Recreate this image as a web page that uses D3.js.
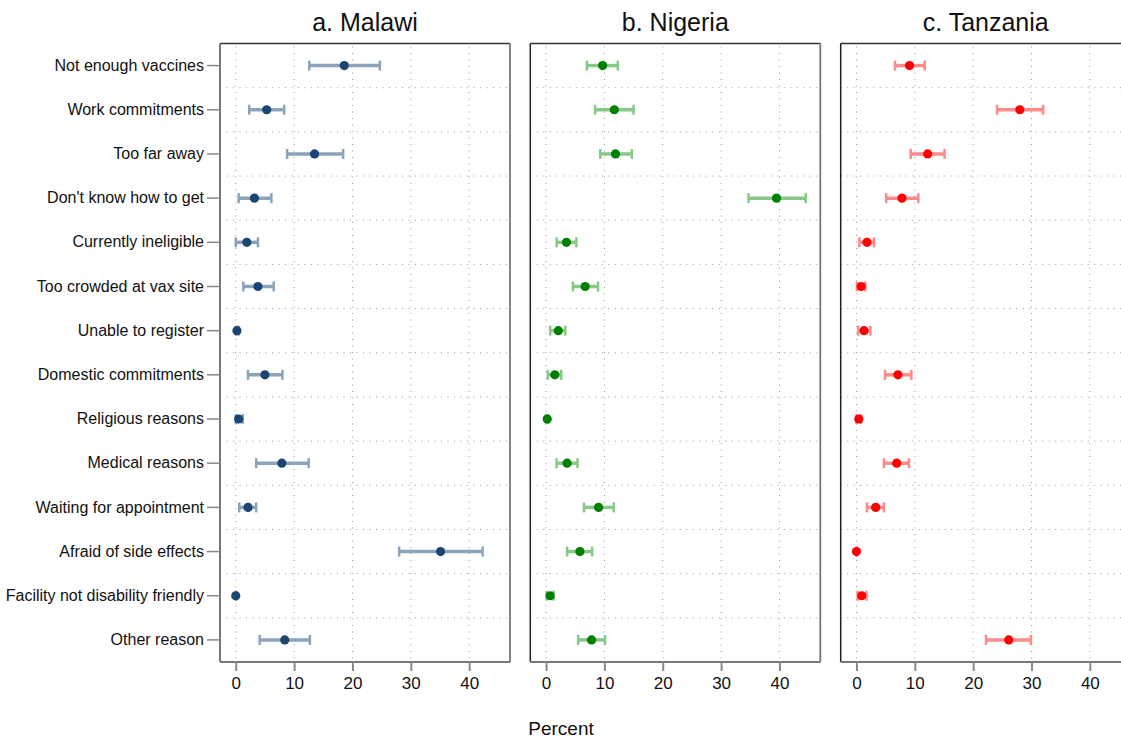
<!DOCTYPE html>
<html>
<head>
<meta charset="utf-8">
<script src="https://cdn.jsdelivr.net/npm/d3@7"></script>
<style>
  body { margin: 0; background: #fff; }
  svg { font-family: "Liberation Sans", Arial, sans-serif; }
</style>
</head>
<body>
<div id="chart"></div>
<script>
// reasons (rows, top to bottom)
const reasons = ["Not enough vaccines", "Work commitments", "Too far away", "Don't know how to get",
  "Currently ineligible", "Too crowded at vax site", "Unable to register", "Domestic commitments",
  "Religious reasons", "Medical reasons", "Waiting for appointment", "Afraid of side effects",
  "Facility not disability friendly", "Other reason"];

const countries = ["a. Malawi", "b. Nigeria", "c. Tanzania"];
const xTicks = [0, 10, 20, 30, 40];

// point estimates and 95% CI, percent
const malawiPct = [18.6, 5.3, 13.5, 3.2, 1.9, 3.8, 0.2, 5.0, 0.5, 7.9, 2.1, 35.1, 0.0, 8.4];
const malawiLo  = [12.6, 2.3, 8.8, 0.5, 0.0, 1.3, 0.0, 2.1, 0.0, 3.5, 0.6, 28.0, 0.0, 4.1];
const malawiHi  = [24.7, 8.3, 18.4, 6.1, 3.8, 6.5, 0.5, 8.0, 1.2, 12.5, 3.5, 42.3, 0.1, 12.7];

const nigeriaPct = [9.7, 11.7, 11.9, 39.5, 3.5, 6.7, 2.1, 1.5, 0.2, 3.6, 9.0, 5.8, 0.7, 7.8];
const nigeriaLo  = [7.0, 8.4, 9.3, 34.7, 1.8, 4.6, 0.7, 0.3, 0.0, 1.8, 6.5, 3.6, 0.1, 5.5];
const nigeriaHi  = [12.3, 15.0, 14.7, 44.5, 5.2, 8.9, 3.3, 2.6, 0.4, 5.4, 11.6, 7.9, 1.3, 10.1];

const tanzaniaPct = [9.1, 28.0, 12.2, 7.8, 1.8, 0.8, 1.3, 7.1, 0.4, 6.9, 3.3, 0.0, 0.9, 26.1];
const tanzaniaLo  = [6.6, 24.1, 9.3, 5.1, 0.5, 0.1, 0.3, 4.9, 0.0, 4.7, 1.8, 0.0, 0.2, 22.2];
const tanzaniaHi  = [11.7, 32.0, 15.1, 10.6, 3.0, 1.5, 2.4, 9.4, 0.8, 9.0, 4.7, 0.1, 1.7, 29.9];

const pct = [malawiPct, nigeriaPct, tanzaniaPct];
const lo = [malawiLo, nigeriaLo, tanzaniaLo];
const hi = [malawiHi, nigeriaHi, tanzaniaHi];
const dotColor = ["#1a4673", "#008000", "#ff0000"];
const ciColor = ["#8ca3bb", "#88c888", "#ff8a8a"];

const W = 1121, H = 739;
const plotTop = 43.5, plotBottom = 662;
const panelLeft = [220, 530.3, 840.7];
const panelW = 290;

const svg = d3.select("#chart").append("svg")
  .attr("width", W).attr("height", H);

const y = d3.scaleBand().domain(reasons).range([plotTop, plotBottom]);

countries.forEach((name, k) => {
  const x0 = panelLeft[k];
  const x = d3.scaleLinear().domain([-2.7, 47]).range([x0, x0 + panelW]);
  const g = svg.append("g");

  // grid
  g.selectAll(".vg").data(xTicks).enter().append("line")
    .attr("x1", d => x(d)).attr("x2", d => x(d))
    .attr("y1", plotTop + 3).attr("y2", plotBottom)
    .attr("stroke", "#999").attr("stroke-width", 1).attr("stroke-dasharray", "1,5.5");
  g.selectAll(".hg").data(reasons.slice(1)).enter().append("line")
    .attr("x1", x0).attr("x2", x0 + panelW)
    .attr("y1", d => y(d)).attr("y2", d => y(d))
    .attr("stroke", "#999").attr("stroke-width", 1).attr("stroke-dasharray", "1,5.5");

  // frame
  g.append("line").attr("x1", x0).attr("x2", x0 + panelW).attr("y1", plotTop).attr("y2", plotTop)
    .attr("stroke", "#333").attr("stroke-width", 1.5);
  g.append("line").attr("x1", x0 + panelW).attr("x2", x0 + panelW).attr("y1", plotTop).attr("y2", plotBottom)
    .attr("stroke", "#777").attr("stroke-width", 1.8);
  g.append("line").attr("x1", x0).attr("x2", x0).attr("y1", plotTop).attr("y2", plotBottom)
    .attr("stroke", k === 0 ? "#777" : "#222").attr("stroke-width", k === 0 ? 2 : 1.5);

  // x axis
  const xa = g.append("g").attr("transform", `translate(0,${plotBottom})`)
    .call(d3.axisBottom(x).tickValues(xTicks).tickSize(9).tickSizeOuter(0).tickPadding(6));
  xa.select(".domain").attr("stroke", "#777").attr("stroke-width", 2)
    .attr("d", `M${x0},0H${x0 + panelW}`);
  xa.selectAll(".tick line").attr("stroke", "#888").attr("stroke-width", 2);
  xa.selectAll(".tick text").attr("font-size", 17).attr("fill", "#111")
    .attr("font-family", "'Liberation Sans', Arial, sans-serif");

  // y axis on first panel only
  if (k === 0) {
    const ya = g.append("g").attr("transform", `translate(${x0},0)`)
      .call(d3.axisLeft(y).tickSize(13).tickSizeOuter(0).tickPadding(3));
    ya.select(".domain").remove();
    ya.selectAll(".tick line").attr("stroke", "#888").attr("stroke-width", 1.5);
    ya.selectAll(".tick text").attr("font-size", 16).attr("fill", "#111")
      .attr("font-family", "'Liberation Sans', Arial, sans-serif");
  }

  // CIs
  const cy = d => y(d) + y.bandwidth() / 2;
  g.selectAll(".ci").data(reasons).enter().append("line")
    .attr("x1", (d, i) => x(lo[k][i])).attr("x2", (d, i) => x(hi[k][i]))
    .attr("y1", cy).attr("y2", cy)
    .attr("stroke", ciColor[k]).attr("stroke-width", 3.5);
  [lo[k], hi[k]].forEach(arr => {
    g.selectAll(null).data(reasons).enter().append("line")
      .attr("x1", (d, i) => x(arr[i])).attr("x2", (d, i) => x(arr[i]))
      .attr("y1", d => cy(d) - 5).attr("y2", d => cy(d) + 5)
      .attr("stroke", ciColor[k]).attr("stroke-width", 2.5);
  });

  // points
  g.selectAll(".pt").data(reasons).enter().append("circle")
    .attr("cx", (d, i) => x(pct[k][i])).attr("cy", cy).attr("r", 4.6)
    .attr("fill", dotColor[k]);

  // title
  svg.append("text").attr("x", x0 + panelW / 2).attr("y", 31)
    .attr("text-anchor", "middle").attr("font-size", 25).attr("fill", "#111").text(name);
});

svg.append("text").attr("x", 561).attr("y", 735).attr("text-anchor", "middle")
  .attr("font-size", 19).attr("fill", "#111").text("Percent");
</script>
</body>
</html>
